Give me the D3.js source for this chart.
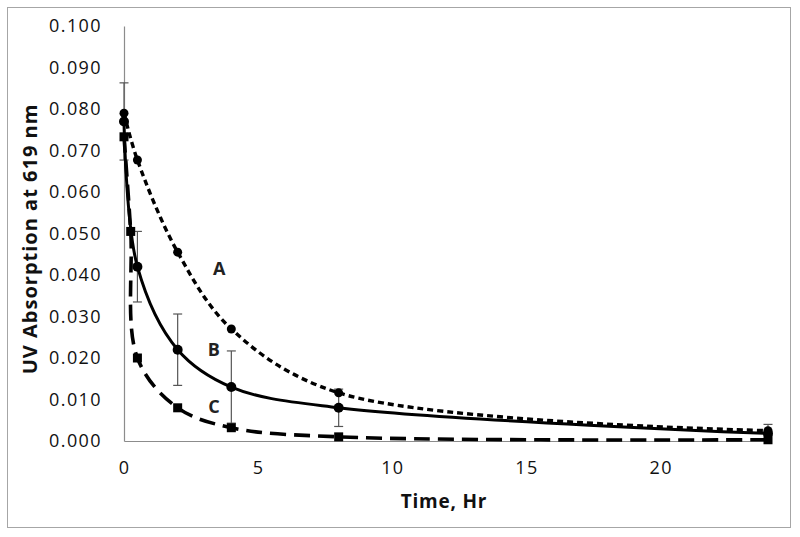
<!DOCTYPE html>
<html><head><meta charset="utf-8">
<script src="https://cdn.jsdelivr.net/npm/d3@7"></script>
<style>body{margin:0;background:#fff}</style>
</head><body>
<script>
// Data
const timesA = [0, 0.5, 2, 4, 8, 24];
const valuesA = [0.0790, 0.0677, 0.0455, 0.0270, 0.0116, 0.0025];
const timesB = [0, 0.5, 2, 4, 8, 24];
const valuesB = [0.0770, 0.0420, 0.0220, 0.0130, 0.0080, 0.0018];
const errorsB = [0.0093, 0.0085, 0.0086, 0.0087, 0.0045, 0.0022];
const timesC = [0, 0.25, 0.5, 2, 4, 8, 24];
const valuesC = [0.0733, 0.0505, 0.0200, 0.0080, 0.0032, 0.0010, 0.0003];
const seriesNames = ["A", "B", "C"];
const labelTimes = [3.55, 3.35, 3.35];
const labelValues = [0.0414, 0.0220, 0.0083];
const xTicks = [0, 5, 10, 15, 20];
const yTicks = [0, 0.01, 0.02, 0.03, 0.04, 0.05, 0.06, 0.07, 0.08, 0.09, 0.10];
const xTitle = "Time, Hr";
const yTitle = "UV Absorption at 619 nm";

const W = 800, H = 537;
const svg = d3.select("body").append("svg").attr("width", W).attr("height", H);
svg.append("rect").attr("x", 7.5).attr("y", 7.5).attr("width", 783).attr("height", 520)
  .attr("fill", "#fff").attr("stroke", "#a6a6a6").attr("stroke-width", 1);

const m = {left: 124, right: 768, top: 26, bottom: 441};
const x = d3.scaleLinear().domain([0, 24]).range([m.left, m.right]);
const y = d3.scaleLinear().domain([0, 0.1]).range([m.bottom, m.top]);

const font = "'Open Sans', sans-serif";

// axes
const gx = svg.append("g").attr("transform", `translate(0,${m.bottom})`)
  .call(d3.axisBottom(x).tickValues(xTicks).tickSize(0).tickPadding(20).tickFormat(d3.format("d")));
const gy = svg.append("g").attr("transform", `translate(${m.left},0)`)
  .call(d3.axisLeft(y).tickValues(yTicks).tickSize(0).tickPadding(22).tickFormat(d3.format(".3f")));
[gx, gy].forEach(g => {
  g.select(".domain").attr("stroke", "#8c8c8c").attr("stroke-width", 1.2);
  g.selectAll("text").attr("font-family", font).attr("font-size", 18)
    .attr("letter-spacing", 1.4).attr("fill", "#111").attr("font-weight", 500);
});
gx.selectAll("text").attr("dy", "0.71em");

svg.append("text").attr("x", 444).attr("y", 508).attr("text-anchor", "middle")
  .attr("font-family", font).attr("font-weight", "bold").attr("font-size", 19)
  .attr("letter-spacing", 0.8).attr("fill", "#111").text(xTitle);
svg.append("text").attr("transform", "translate(37,239) rotate(-90)").attr("text-anchor", "middle")
  .attr("font-family", font).attr("font-weight", "bold").attr("font-size", 20)
  .attr("letter-spacing", 1).attr("fill", "#111").text(yTitle);

const dataA = timesA.map((t, i) => ({t, v: valuesA[i]}));
const dataB = timesB.map((t, i) => ({t, v: valuesB[i], e: errorsB[i]}));
const dataC = timesC.map((t, i) => ({t, v: valuesC[i]}));

const line = d3.line().x(d => x(d.t)).y(d => y(d.v)).curve(d3.curveCatmullRom.alpha(0.5));

// error bars
const eb = svg.append("g").attr("stroke", "#555").attr("stroke-width", 1.2);
dataB.forEach(d => {
  eb.append("line").attr("x1", x(d.t)).attr("x2", x(d.t)).attr("y1", y(d.v + d.e)).attr("y2", y(Math.max(0, d.v - d.e)));
  [d.v + d.e, d.v - d.e].forEach(v => {
    if (v > 0) eb.append("line").attr("x1", x(d.t) - 4.5).attr("x2", x(d.t) + 4.5).attr("y1", y(v)).attr("y2", y(v));
  });
});

// lines
svg.append("path").datum(dataC).attr("d", line).attr("fill", "none").attr("stroke", "#000")
  .attr("stroke-width", 3.6).attr("stroke-dasharray", "16,8");
svg.append("path").datum(dataA).attr("d", line).attr("fill", "none").attr("stroke", "#000")
  .attr("stroke-width", 3.4).attr("stroke-dasharray", "6,4");
svg.append("path").datum(dataB).attr("d", line).attr("fill", "none").attr("stroke", "#000")
  .attr("stroke-width", 3);

// markers
svg.append("g").selectAll("circle").data(dataA).join("circle")
  .attr("cx", d => x(d.t)).attr("cy", d => y(d.v)).attr("r", 4.5).attr("fill", "#000");
svg.append("g").selectAll("circle").data(dataB).join("circle")
  .attr("cx", d => x(d.t)).attr("cy", d => y(d.v)).attr("r", 5).attr("fill", "#000");
svg.append("g").selectAll("rect").data(dataC).join("rect")
  .attr("x", d => x(d.t) - 4.5).attr("y", d => y(d.v) - 4.5).attr("width", 9).attr("height", 9).attr("fill", "#000");

// series labels
svg.append("g").selectAll("text").data(seriesNames).join("text")
  .attr("x", (d, i) => x(labelTimes[i])).attr("y", (d, i) => y(labelValues[i]))
  .attr("dy", "0.35em").attr("text-anchor", "middle")
  .attr("font-family", font).attr("font-weight", "bold").attr("font-size", 18)
  .attr("fill", "#222").text(d => d);
</script>
</body></html>
